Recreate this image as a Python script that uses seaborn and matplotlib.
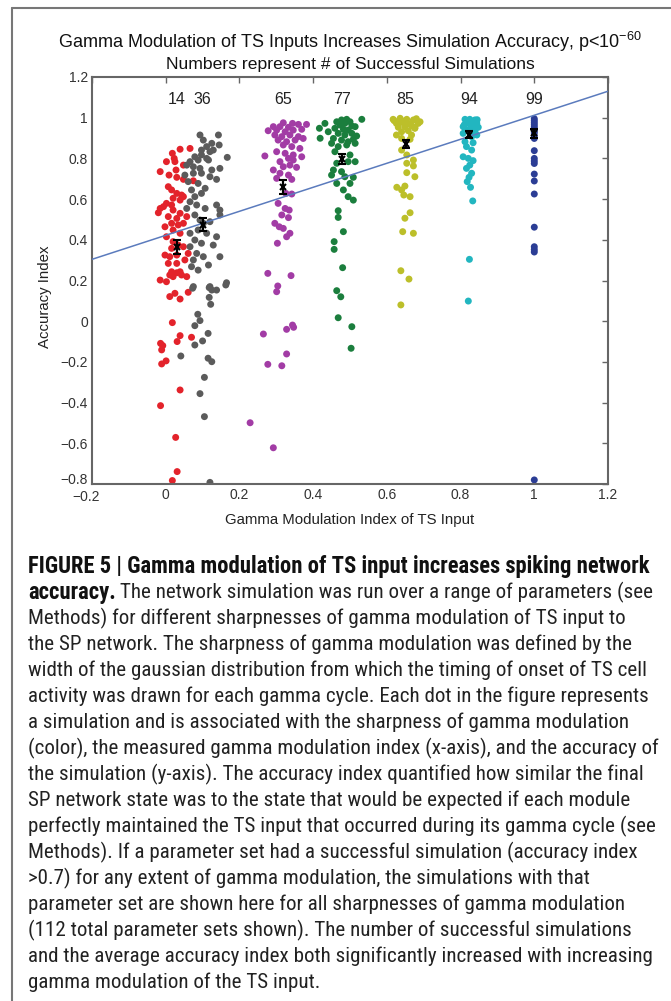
import matplotlib
matplotlib.use("Agg")
import matplotlib.pyplot as plt
from matplotlib import font_manager
from matplotlib.lines import Line2D
from matplotlib.transforms import ScaledTranslation
import numpy as np
import pandas as pd
import seaborn as sns

# --- values ---------------------------------------------------------------
group_names = ["s1", "s2", "s3", "s4", "s5", "s6", "s7"]
group_colors = ["#e3232b", "#5b5b5b", "#a23ca5", "#1b7e3d", "#bcbf2a", "#22b6c0", "#2b3d95"]
n_success = [14, 36, 65, 77, 85, 94, 99]
mean_x = [0.030, 0.100, 0.318, 0.478, 0.651, 0.824, 1.000]
mean_y = [0.366, 0.475, 0.660, 0.797, 0.871, 0.917, 0.923]
sem_y = [0.034, 0.033, 0.036, 0.025, 0.020, 0.016, 0.022]
fit_slope = 0.59
fit_intercept = 0.422

red_x = [0.018, 0.039, 0.066, 0.023, 0.025, 0.002, -0.015, 0.048, 0.028, 0.009, 0.030, 0.048, 0.075,
         0.007, 0.016, 0.030, 0.043, 0.020, 0.039, 0.002, -0.006, -0.015, 0.016, 0.048, -0.020, 0.020,
         0.039, 0.007, 0.030, 0.057, -0.002, 0.016, 0.034, 0.048, 0.020, 0.039, 0.002, 0.020, 0.034,
         0.016, 0.048, -0.002, 0.011, 0.030, 0.061, 0.007, 0.030, 0.052, 0.016, 0.030, 0.011, 0.039,
         0.020, -0.015, 0.002, 0.043, 0.057,
         0.011, 0.025, 0.039, 0.061, 0.018, 0.039, 0.070, 0.031, -0.014, -0.008, -0.011, 0.001, -0.011,
         0.039, -0.014, 0.027, 0.031, 0.018]
red_y = [0.825, 0.845, 0.849, 0.800, 0.784, 0.784, 0.735, 0.767, 0.743, 0.718, 0.707, 0.697, 0.690,
         0.661, 0.645, 0.628, 0.620, 0.604, 0.595, 0.579, 0.563, 0.554, 0.571, 0.612, 0.533, 0.546,
         0.530, 0.514, 0.505, 0.514, 0.464, 0.481, 0.473, 0.481, 0.448, 0.432, 0.415, 0.391, 0.374,
         0.358, 0.366, 0.325, 0.317, 0.325, 0.333, 0.284, 0.284, 0.301, 0.243, 0.238, 0.227, 0.243,
         0.219, 0.202, 0.194, 0.227, 0.219,
         0.121, 0.137, 0.109, 0.142, -0.007, -0.071, -0.079, -0.100, -0.109, -0.120, -0.141, -0.195, -0.210,
         -0.338, -0.415, -0.571, -0.739, -0.783]

gray_x = [0.093, 0.143, 0.102, 0.125, 0.111, 0.097, 0.120, 0.129, 0.145, 0.097, 0.111, 0.079, 0.066,
          0.088, 0.116, 0.167, 0.057, 0.075, 0.093, 0.125, 0.147, 0.052, 0.075, 0.097, 0.120, 0.138,
          0.061, 0.088, 0.107, 0.070, 0.079, 0.097, 0.066, 0.084, 0.138, 0.057, 0.107, 0.147, 0.079,
          0.093, 0.102, 0.120, 0.147, 0.066, 0.088, 0.111, 0.138, 0.079, 0.097, 0.066, 0.129, 0.084,
          0.102, 0.075, 0.147, 0.116, 0.070, 0.088, 0.165, 0.075, 0.120, 0.138,
          0.073, 0.118, 0.125, 0.163, 0.118, 0.122, 0.087, 0.093, 0.079, 0.115, 0.100, 0.079, 0.041,
          0.115, 0.125, 0.105, 0.093, 0.105, 0.120]
gray_y = [0.915, 0.915, 0.890, 0.874, 0.858, 0.841, 0.833, 0.841, 0.866, 0.817, 0.800, 0.808, 0.784,
          0.792, 0.792, 0.805, 0.767, 0.759, 0.751, 0.743, 0.751, 0.718, 0.727, 0.727, 0.710, 0.697,
          0.686, 0.677, 0.653, 0.645, 0.612, 0.628, 0.587, 0.571, 0.571, 0.554, 0.554, 0.546, 0.522,
          0.497, 0.481, 0.489, 0.522, 0.432, 0.448, 0.432, 0.415, 0.399, 0.383, 0.366, 0.374, 0.333,
          0.317, 0.301, 0.317, 0.276, 0.268, 0.251, 0.189, 0.170, 0.170, 0.153,
          0.162, 0.165, 0.153, 0.178, 0.117, 0.083, 0.034, 0.003, -0.022, -0.060, -0.097, -0.117, -0.171,
          -0.182, -0.199, -0.276, -0.356, -0.469, -0.792]

purple_x = [0.319, 0.344, 0.360, 0.382, 0.292, 0.310, 0.333, 0.301, 0.324, 0.346, 0.369, 0.278, 0.296,
            0.315, 0.337, 0.360, 0.305, 0.328, 0.351, 0.373, 0.319, 0.342, 0.364, 0.269, 0.301, 0.324,
            0.346, 0.369, 0.333, 0.310, 0.346, 0.319, 0.337, 0.292, 0.355, 0.310, 0.333, 0.301, 0.342,
            0.326, 0.342, 0.305, 0.324, 0.335, 0.315, 0.333, 0.296, 0.308, 0.319, 0.337, 0.328, 0.303,
            0.277, 0.340, 0.304, 0.301, 0.265, 0.328, 0.344, 0.347, 0.328, 0.277, 0.315, 0.229, 0.292]
purple_y = [0.975, 0.972, 0.967, 0.967, 0.956, 0.956, 0.953, 0.939, 0.931, 0.939, 0.943, 0.936, 0.915,
            0.907, 0.915, 0.907, 0.890, 0.882, 0.890, 0.898, 0.866, 0.858, 0.849, 0.812, 0.833, 0.825,
            0.817, 0.808, 0.800, 0.784, 0.792, 0.759, 0.767, 0.743, 0.756, 0.727, 0.718, 0.702, 0.697,
            0.628, 0.625, 0.579, 0.554, 0.546, 0.522, 0.509, 0.481, 0.464, 0.456, 0.432, 0.415, 0.383,
            0.235, 0.224, 0.173, 0.145, -0.063, -0.040, -0.019, -0.030, -0.161, -0.212, -0.219, -0.499, -0.622]

green_x = [0.417, 0.432, 0.441, 0.419, 0.464, 0.477, 0.491, 0.500, 0.486, 0.473, 0.505, 0.459, 0.482,
           0.495, 0.514, 0.532, 0.468, 0.486, 0.505, 0.518, 0.455, 0.477, 0.495, 0.509, 0.450, 0.468,
           0.491, 0.514, 0.459, 0.500, 0.464, 0.495, 0.514, 0.455, 0.477, 0.450, 0.486, 0.509, 0.464,
           0.500, 0.482, 0.495, 0.509, 0.468, 0.468, 0.482, 0.457, 0.457, 0.480, 0.464, 0.475, 0.468,
           0.505, 0.503]
green_y = [0.948, 0.972, 0.931, 0.899, 0.980, 0.989, 0.992, 0.980, 0.972, 0.964, 0.959, 0.948, 0.943,
           0.939, 0.956, 0.992, 0.923, 0.915, 0.923, 0.910, 0.898, 0.890, 0.882, 0.894, 0.874, 0.858,
           0.866, 0.874, 0.833, 0.817, 0.776, 0.784, 0.784, 0.743, 0.735, 0.718, 0.710, 0.707, 0.677,
           0.677, 0.645, 0.612, 0.595, 0.543, 0.510, 0.440, 0.391, 0.353, 0.263, 0.150, 0.120, 0.017,
           -0.027, -0.133]

yellow_x = [0.617, 0.636, 0.654, 0.672, 0.685, 0.626, 0.645, 0.663, 0.631, 0.649, 0.676, 0.640, 0.658,
            0.626, 0.667, 0.640, 0.663, 0.640, 0.654, 0.672, 0.654, 0.672, 0.654, 0.676, 0.627, 0.649,
            0.640, 0.646, 0.663, 0.663, 0.649, 0.643, 0.672, 0.638, 0.660, 0.638,
            0.620, 0.680, 0.650, 0.632, 0.668, 0.690, 0.676]
yellow_y = [0.992, 0.997, 0.992, 0.989, 0.972, 0.972, 0.976, 0.969, 0.953, 0.956, 0.948, 0.931, 0.936,
            0.915, 0.915, 0.898, 0.894, 0.841, 0.817, 0.792, 0.776, 0.763, 0.730, 0.710, 0.658, 0.664,
            0.645, 0.620, 0.612, 0.533, 0.506, 0.440, 0.432, 0.248, 0.207, 0.080,
            0.985, 0.995, 0.985, 0.970, 0.960, 0.980, 0.950]

cyan_x = [0.812, 0.825, 0.839, 0.844, 0.816, 0.830, 0.807, 0.848, 0.821, 0.839, 0.807, 0.830, 0.844,
          0.812, 0.834, 0.816, 0.830, 0.807, 0.821, 0.834, 0.825, 0.816, 0.830, 0.823, 0.818, 0.827,
          0.833, 0.824, 0.821, 0.820, 0.835, 0.845, 0.810, 0.828, 0.840, 0.815]
cyan_y = [0.992, 0.992, 0.989, 0.972, 0.972, 0.964, 0.956, 0.953, 0.939, 0.931, 0.923, 0.907, 0.915,
          0.882, 0.877, 0.858, 0.841, 0.808, 0.800, 0.789, 0.767, 0.751, 0.727, 0.707, 0.686, 0.658,
          0.591, 0.304, 0.099, 0.980, 0.980, 0.990, 0.965, 0.950, 0.945, 0.940]

blue_x = [1.0] * 22
blue_y = [0.995, 0.985, 0.975, 0.965, 0.955, 0.945, 0.935, 0.925, 0.910, 0.898, 0.838, 0.800, 0.787,
          0.775, 0.723, 0.689, 0.625, 0.462, 0.366, 0.352, 0.340, -0.780]

x_ticks = [-0.2, 0, 0.2, 0.4, 0.6, 0.8, 1, 1.2]
x_ticklabels = ["\u22120.2", "0", "0.2", "0.4", "0.6", "0.8", "1", "1.2"]
y_ticks = [-0.8, -0.6, -0.4, -0.2, 0, 0.2, 0.4, 0.6, 0.8, 1, 1.2]
y_ticklabels = ["\u22120.8", "\u22120.6", "\u22120.4", "\u22120.2", "0", "0.2", "0.4", "0.6", "0.8", "1", "1.2"]

caption_lines = [
    "FIGURE 5 | Gamma modulation of TS input increases spiking network",
    "The network simulation was run over a range of parameters (see",
    "Methods) for different sharpnesses of gamma modulation of TS input to",
    "the SP network. The sharpness of gamma modulation was defined by the",
    "width of the gaussian distribution from which the timing of onset of TS cell",
    "activity was drawn for each gamma cycle. Each dot in the figure represents",
    "a simulation and is associated with the sharpness of gamma modulation",
    "(color), the measured gamma modulation index (x-axis), and the accuracy of",
    "the simulation (y-axis). The accuracy index quantified how similar the final",
    "SP network state was to the state that would be expected if each module",
    "perfectly maintained the TS input that occurred during its gamma cycle (see",
    "Methods). If a parameter set had a successful simulation (accuracy index",
    ">0.7) for any extent of gamma modulation, the simulations with that",
    "parameter set are shown here for all sharpnesses of gamma modulation",
    "(112 total parameter sets shown). The number of successful simulations",
    "and the average accuracy index both significantly increased with increasing",
    "gamma modulation of the TS input.",
]

# --- data frame ------------------------------------------------------------
xs = [red_x, gray_x, purple_x, green_x, yellow_x, cyan_x, blue_x]
ys = [red_y, gray_y, purple_y, green_y, yellow_y, cyan_y, blue_y]
df = pd.concat(
    [pd.DataFrame({"x": gx, "y": gy, "group": g}) for g, gx, gy in zip(group_names, xs, ys)],
    ignore_index=True,
)
palette = dict(zip(group_names, group_colors))

sns.set_style("white")
plt.rcParams["font.family"] = ["Liberation Sans", "DejaVu Sans"]
plt.rcParams["mathtext.fontset"] = "custom"
plt.rcParams["mathtext.rm"] = "Liberation Sans"
plt.rcParams["mathtext.it"] = "Liberation Sans:italic"

W, H = 671, 1001
fig = plt.figure(figsize=(W / 100, H / 100), dpi=100)
ax = fig.add_axes([92 / W, 1 - 484 / H, 516 / W, 407 / H])

sns.scatterplot(data=df, x="x", y="y", hue="group", palette=palette, s=25,
                linewidth=0, legend=False, ax=ax, zorder=2)

xl = np.array([-0.2, 1.2])
ax.plot(xl, fit_intercept + fit_slope * xl, color="#5b7bbd", lw=1.1, zorder=3)

ax.errorbar(mean_x, mean_y, yerr=sem_y, fmt="x", color="black", ms=4, mew=1.5,
            elinewidth=1.6, capsize=3, capthick=1.4, zorder=4)

for gx, n in zip(mean_x, n_success):
    ax.text(gx, 1.09, str(n), ha="center", va="center", fontsize=11.5, color="#222")

ax.set_xlim(-0.2, 1.2)
ax.set_ylim(-0.8, 1.2)
ax.set_xticks(x_ticks)
ax.set_xticklabels(x_ticklabels)
ax.set_yticks(y_ticks)
ax.set_yticklabels(y_ticklabels)
ax.tick_params(direction="in", length=4, width=1, top=True, right=True,
               labelsize=10, colors="#666", labelcolor="#333", pad=3)
for sp in ax.spines.values():
    sp.set_color("#666")
    sp.set_linewidth(1.5)
ax.set_xlabel("")
ax.set_ylabel("")

# the two corner labels sit close together; nudge them apart a little
lab = ax.get_yticklabels()[0]
lab.set_transform(lab.get_transform() + ScaledTranslation(0, 4 / 72, fig.dpi_scale_trans))
lab = ax.get_xticklabels()[0]
lab.set_transform(lab.get_transform() + ScaledTranslation(-4 / 72, -1 / 72, fig.dpi_scale_trans))

cx = (92 + 608) / 2 / W
fig.text(cx, 1 - 42 / H, "Gamma Modulation of TS Inputs Increases Simulation Accuracy, p<10$^{\u221260}$",
         ha="center", va="center", fontsize=13, color="#111")
fig.text(cx, 1 - 65 / H, "Numbers represent # of Successful Simulations",
         ha="center", va="center", fontsize=12.6, color="#111")
fig.text(cx, 1 - 520 / H, "Gamma Modulation Index of TS Input",
         ha="center", va="center", fontsize=10.8, color="#222")
fig.text(45 / W, 1 - 297 / H, "Accuracy Index", rotation=90,
         ha="center", va="center", fontsize=10.8, color="#222")

# outer frame of the figure panel
fig.add_artist(Line2D([12 / W, 12 / W], [0, 1 - 8 / H], color="#777", lw=1.5))
fig.add_artist(Line2D([12 / W, 1], [1 - 8 / H, 1 - 8 / H], color="#777", lw=1.5))

# caption, in a narrow sans if one is installed
names = {f.name for f in font_manager.fontManager.ttflist}
cap_font = next((n for n in ["Liberation Sans Narrow", "Roboto Condensed", "DejaVu Sans Condensed",
                             "Liberation Sans"] if n in names), "DejaVu Sans")
renderer = fig.canvas.get_renderer()
probe = fig.text(0, 0, caption_lines[15], fontsize=12, family=cap_font)
size = 12 * 623 / probe.get_window_extent(renderer).width
probe.remove()
probe = fig.text(0, 0, caption_lines[0], fontsize=12, family=cap_font, weight="bold")
bsize = 12 * 622 / probe.get_window_extent(renderer).width
probe.remove()

x0 = 28 / W
for i, line in enumerate(caption_lines):
    yy = 1 - (566 + 26 * i) / H
    if i == 0:
        fig.text(x0, yy, line, fontsize=bsize, family=cap_font, weight="bold", va="center", color="#111")
    elif i == 1:
        b = fig.text(x0, yy, "accuracy.", fontsize=bsize, family=cap_font, weight="bold",
                     va="center", color="#111")
        bw = b.get_window_extent(renderer).width
        fig.text(x0 + (bw + size * 0.3) / W, yy, line, fontsize=size, family=cap_font,
                 va="center", color="#222")
    else:
        fig.text(x0, yy, line, fontsize=size, family=cap_font, va="center", color="#222")

fig.savefig("out.png", dpi=100)
